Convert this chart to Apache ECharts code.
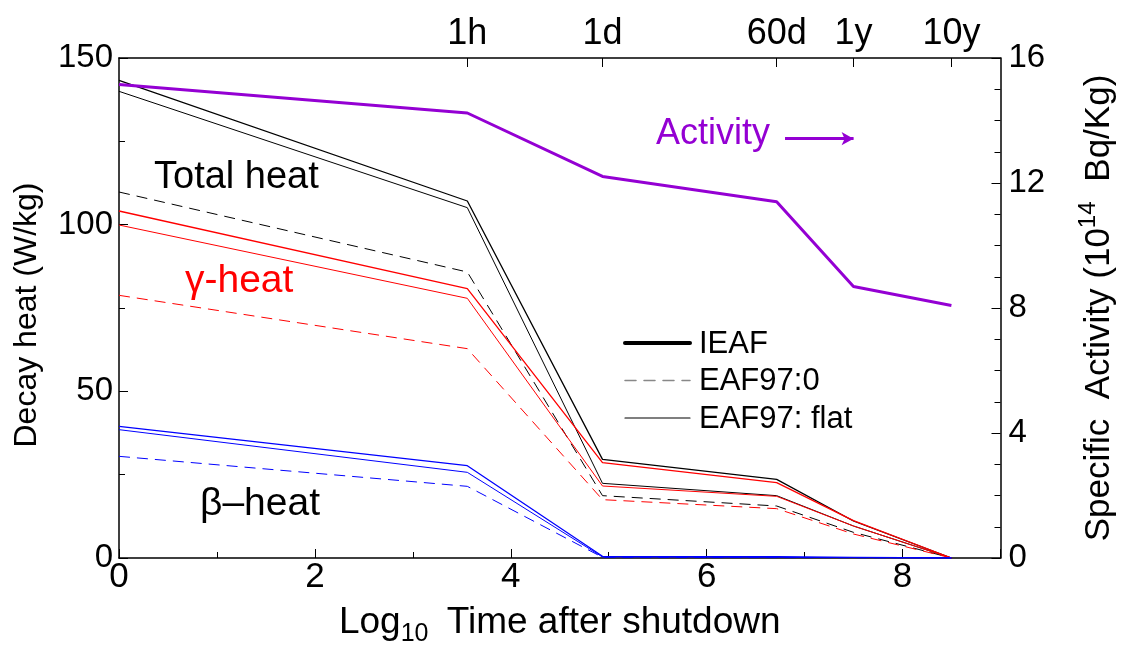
<!DOCTYPE html>
<html>
<head>
<meta charset="utf-8">
<script src="https://cdn.jsdelivr.net/npm/echarts@6/dist/echarts.min.js"></script>
<style>html,body{margin:0;padding:0;background:#fff;}#c{width:1125px;height:652px;}</style>
</head>
<body>
<div id="c"></div>
<script>
// ---- data ----
// x positions: log10 of the time after shutdown (seconds) for 0, 1h, 1d, 60d, 1y, 10y
var timeSeconds = [1, 3600, 86400, 5184000, 31536000, 315360000];
var topLabels = ['1h', '1d', '60d', '1y', '10y'];
var topSeconds = [3600, 86400, 5184000, 31536000, 315360000];

var activity   = [15.15, 14.24, 12.21, 11.40, 8.69, 8.08];

var totalIEAF  = [143.3, 107.1, 29.6, 23.6, 11.1, 0];
var totalFlat  = [140.0, 105.1, 22.4, 18.7, 9.6, 0];
var total0     = [109.8, 85.8, 18.7, 15.6, 7.7, 0];

var gammaIEAF  = [104.1, 80.8, 28.6, 22.6, 11.2, 0];
var gammaFlat  = [99.9, 77.9, 21.6, 18.5, 9.6, 0];
var gamma0     = [78.8, 62.8, 17.5, 14.8, 7.2, 0];

var betaIEAF   = [39.5, 27.7, 0.5, 0.4, 0.2, 0];
var betaFlat   = [38.5, 25.7, 0.3, 0.2, 0.1, 0];
var beta0      = [30.5, 21.5, 0.2, 0.1, 0.05, 0];

var legendNames = ['IEAF', 'EAF97:0', 'EAF97: flat'];

// ---- build ----
var xs = timeSeconds.map(function (s) { return Math.log10(s); });
var topTicks = topSeconds.map(function (s) { return Math.log10(s); });
function pairs(vals) { return vals.map(function (v, i) { return [xs[i], v]; }); }

var FONT = "'Liberation Sans', Arial, sans-serif";

function heat(name, vals, color, kind) {
  return {
    name: name, type: 'line', xAxisIndex: 0, yAxisIndex: 0,
    data: pairs(vals), symbol: 'none', silent: true, z: 3,
    lineStyle: {
      color: color,
      width: kind === 'ieaf' ? 1.3 : 1,
      type: kind === 'zero' ? [11, 7] : 'solid'
    }
  };
}

var series = [
  heat('totalIEAF', totalIEAF, '#000', 'ieaf'),
  heat('totalFlat', totalFlat, '#000', 'flat'),
  heat('total0', total0, '#000', 'zero'),
  heat('gammaIEAF', gammaIEAF, '#ff0000', 'ieaf'),
  heat('gammaFlat', gammaFlat, '#ff0000', 'flat'),
  heat('gamma0', gamma0, '#ff0000', 'zero'),
  heat('betaIEAF', betaIEAF, '#0000ff', 'ieaf'),
  heat('betaFlat', betaFlat, '#0000ff', 'flat'),
  heat('beta0', beta0, '#0000ff', 'zero'),
  {
    name: 'Activity', type: 'line', xAxisIndex: 0, yAxisIndex: 1,
    data: pairs(activity), symbol: 'none', silent: true, z: 4,
    lineStyle: { color: '#9400d3', width: 3 },
    markLine: {
      silent: true, symbol: ['none', 'arrow'], symbolSize: [10, 12],
      label: { show: false },
      lineStyle: { color: '#9400d3', width: 3, type: 'solid' },
      data: [[{ coord: [6.8, 13.42] }, { coord: [7.5, 13.42] }]]
    }
  }
];

// legend (drawn as graphic: sample line + text)
var legendStyles = [
  { stroke: '#000', lineWidth: 4, lineDash: null },
  { stroke: '#888', lineWidth: 1.5, lineDash: [11, 8] },
  { stroke: '#000', lineWidth: 1.2, lineDash: null }
];
var legendGraphics = [];
legendNames.forEach(function (n, i) {
  var y = 343 + i * 37.5;
  legendGraphics.push({ type: 'line', silent: true,
    shape: { x1: 625, y1: y, x2: 690, y2: y },
    style: { stroke: legendStyles[i].stroke, lineWidth: legendStyles[i].lineWidth, lineDash: legendStyles[i].lineDash, lineCap: 'round' } });
  legendGraphics.push({ type: 'text', silent: true, x: 699, y: y + 1,
    style: { text: n, fontFamily: FONT, fontSize: 31, fill: '#000', verticalAlign: 'middle', align: 'left' } });
});

var chart = echarts.init(document.getElementById('c'), null, { renderer: 'canvas' });
chart.setOption({
  animation: false,
  backgroundColor: '#fff',
  grid: { left: 119, right: 117, top: 58, bottom: 86, containLabel: false },
  xAxis: [
    {
      type: 'value', position: 'bottom', min: 0, max: 9, interval: 2,
      axisLine: { show: true, onZero: false, lineStyle: { color: '#000', width: 1.5 } },
      axisTick: { show: true, inside: true, length: 9, lineStyle: { color: '#000' } },
      minorTick: { show: true, splitNumber: 2, length: 6, lineStyle: { color: '#000' } },
      splitLine: { show: false },
      axisLabel: { fontFamily: FONT, fontSize: 35, color: '#000', margin: 2,
        formatter: function (v) { return v === 9 ? '' : String(v); } },
      name: 'Log{sub|10} Time after shutdown', nameLocation: 'middle', nameGap: 40,
      nameTextStyle: { fontFamily: FONT, fontSize: 37, color: '#000',
        rich: { sub: { fontFamily: FONT, fontSize: 25, color: '#000', padding: [24, 8, 0, 0] } } }
    },
    {
      type: 'value', position: 'top', min: 0, max: 9,
      axisLine: { show: true, onZero: false, lineStyle: { color: '#000', width: 1.5 } },
      axisTick: { show: true, inside: true, length: 9, customValues: topTicks, lineStyle: { color: '#000' } },
      splitLine: { show: false },
      axisLabel: {
        customValues: topTicks, fontFamily: FONT, fontSize: 36, color: '#000', margin: 6,
        formatter: function (v) {
          for (var i = 0; i < topTicks.length; i++) { if (Math.abs(topTicks[i] - v) < 1e-6) return topLabels[i]; }
          return '';
        }
      }
    }
  ],
  yAxis: [
    {
      type: 'value', position: 'left', min: 0, max: 150, interval: 50,
      axisLine: { show: true, onZero: false, lineStyle: { color: '#000', width: 1.5 } },
      axisTick: { show: true, inside: true, length: 9, lineStyle: { color: '#000' } },
      minorTick: { show: true, splitNumber: 2, length: 6, lineStyle: { color: '#000' } },
      splitLine: { show: false },
      axisLabel: { fontFamily: FONT, fontSize: 33, color: '#000', margin: 6 },
      name: 'Decay heat (W/kg)', nameLocation: 'middle', nameRotate: 90, nameGap: 76,
      nameTextStyle: { fontFamily: FONT, fontSize: 32, color: '#000', padding: [0, 14, 0, 0] }
    },
    {
      type: 'value', position: 'right', min: 0, max: 16, interval: 4,
      axisLine: { show: true, onZero: false, lineStyle: { color: '#000', width: 1.5 } },
      axisTick: { show: true, inside: true, length: 9, lineStyle: { color: '#000' } },
      minorTick: { show: true, splitNumber: 4, length: 6, lineStyle: { color: '#000' } },
      splitLine: { show: false },
      axisLabel: { fontFamily: FONT, fontSize: 33, color: '#000', margin: 8 },
      name: 'Specific  Activity (10{sup|14} Bq/Kg)', nameLocation: 'middle', nameRotate: 90, nameGap: 76,
      nameTextStyle: { fontFamily: FONT, fontSize: 35, color: '#000',
        rich: { sup: { fontFamily: FONT, fontSize: 24, color: '#000', padding: [0, 10, 22, 0] } } }
    }
  ],
  graphic: legendGraphics.concat([
    { type: 'text', left: 154, top: 159, silent: true,
      style: { text: 'Total heat', fontFamily: FONT, fontSize: 38, fill: '#000' } },
    { type: 'text', left: 185, top: 262, silent: true,
      style: { text: 'γ-heat', fontFamily: FONT, fontSize: 39, fill: '#ff0000' } },
    { type: 'text', left: 200, top: 485, silent: true,
      style: { text: 'β–heat', fontFamily: FONT, fontSize: 39, fill: '#000' } },
    { type: 'text', left: 656, top: 116, silent: true,
      style: { text: 'Activity', fontFamily: FONT, fontSize: 36, fill: '#9400d3' } }
  ]),
  series: series
});
</script>
</body>
</html>
